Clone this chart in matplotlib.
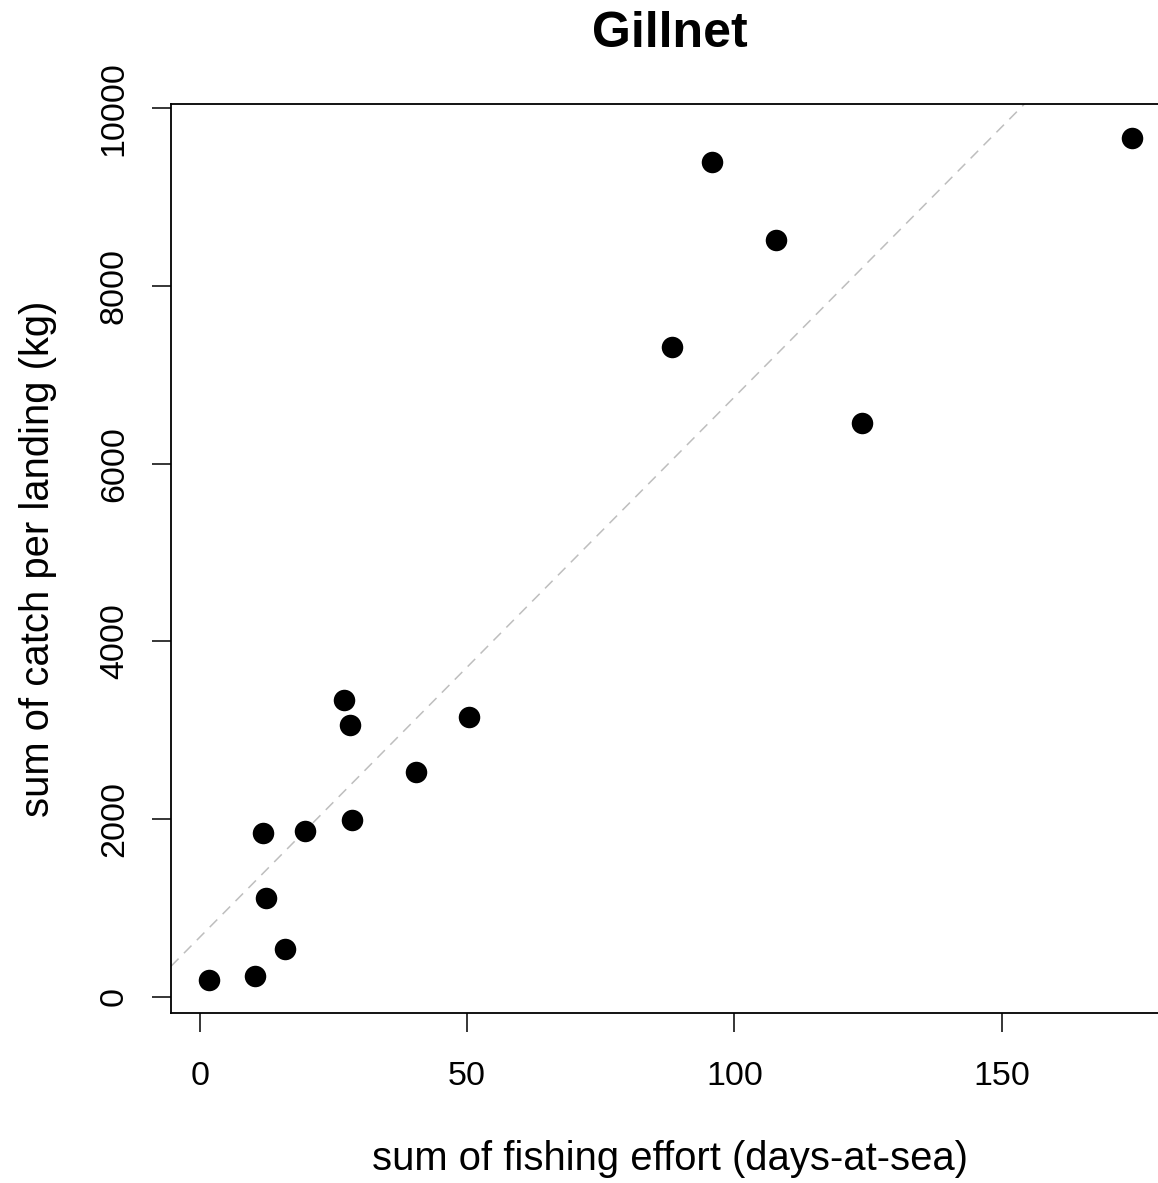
import matplotlib

matplotlib.use("Agg")
import matplotlib.pyplot as plt

# effort (days-at-sea) and catch (kg) per landing group
effort = [1.7, 10.4, 15.9, 12.3, 11.8, 19.7, 28.5, 26.9, 28.0, 40.5, 50.4,
          88.4, 95.9, 107.7, 123.8, 174.4]
catch = [191, 237, 541, 1108, 1844, 1867, 1991, 3342, 3053, 2528, 3147,
         7319, 9400, 8524, 6459, 9662]

# reference line (intercept, slope)
line_a = 670
line_b = 60.8

x_ticks = [0, 50, 100, 150]
y_ticks = [0, 2000, 4000, 6000, 8000, 10000]

plt.rcParams["font.family"] = ["Liberation Sans", "DejaVu Sans"]

fig = plt.figure(figsize=(11.58, 11.83), dpi=100)
ax = fig.add_axes([0.1477, 0.1437, 0.8617, 0.7684])

ax.axline((0, line_a), slope=line_b, color="#BEBEBE", linewidth=1.1,
          linestyle=(0, (7, 5)), zorder=1)
ax.scatter(effort, catch, s=240, color="black", zorder=3, linewidths=0)

ax.set_xlim(-5.4, 181.3)
ax.set_ylim(-185, 10050)

ax.set_xticks(x_ticks)
ax.set_yticks(y_ticks)
ax.set_yticklabels([str(v) for v in y_ticks], rotation=90, va="center")
ax.tick_params(axis="both", direction="out", length=13.7, width=1.1,
               labelsize=24.5, color="black")
ax.tick_params(axis="x", pad=21)
ax.tick_params(axis="y", pad=16)

for side in ax.spines.values():
    side.set_linewidth(1.3)

ax.set_xlabel("sum of fishing effort (days-at-sea)", fontsize=28.8, va="center")
ax.xaxis.set_label_coords(0.5, -0.161)
ax.set_ylabel("sum of catch per landing (kg)", fontsize=28.8, va="center")
ax.yaxis.set_label_coords(-0.133, 0.5)

ax.set_title("Gillnet", fontsize=36, fontweight="bold", y=1.068, va="center")

fig.savefig("out.png", dpi=100)
plt.close(fig)
